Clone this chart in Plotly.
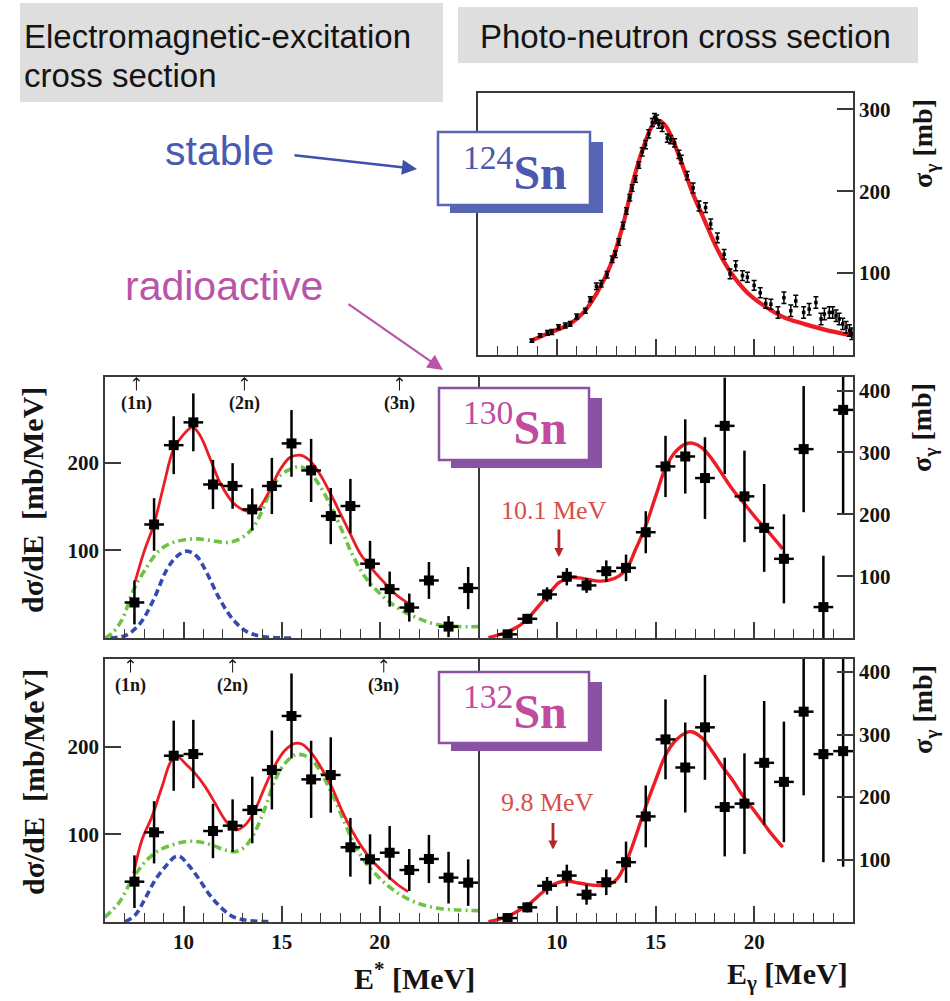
import plotly.graph_objects as go

# ---------------- data ----------------
# 124Sn photo-neutron cross section (E in MeV, sigma in mb)
e124 = [8.73, 9.15, 9.52, 9.74, 10.08, 10.42, 10.67, 11.0, 11.44, 11.69, 12.0, 12.24, 12.54, 12.8,
        12.96, 13.13, 13.35, 13.52, 13.69, 13.81, 13.98, 14.15, 14.32, 14.49, 14.65, 14.83, 14.94,
        15.05, 15.16, 15.33, 15.59, 15.76, 15.96, 16.18, 16.3, 16.6, 16.9, 17.2, 17.53, 17.79, 18.13,
        18.47, 18.77, 19.06, 19.4, 19.65, 19.99, 20.3, 20.58, 20.84, 21.2, 21.5, 21.85, 22.1, 22.5,
        22.78, 23.12, 23.38, 23.55, 23.8, 23.97, 24.14, 24.3, 24.48, 24.65, 24.82, 24.94]
s124 = [17.5, 24, 27, 28, 34, 36, 38, 47, 54, 68, 84, 87, 98, 117, 123, 138, 158, 176, 192, 204,
        215, 232, 248, 257, 270, 284, 290, 288, 282, 278, 265, 263, 259, 245, 239, 219, 204, 182,
        180, 160, 143, 123, 99, 109, 97, 95, 85, 76, 63, 62, 52, 70, 54, 66, 52, 56, 64, 44, 50, 52,
        52, 48, 44, 38, 34, 30, 26]
ds124 = [2, 2, 3, 3, 3, 3, 3, 3, 3, 3, 4, 4, 4, 4, 4, 4, 4, 4, 4, 4, 4, 4, 5, 5, 5, 5, 5, 5, 5, 5,
         5, 5, 5, 5, 5, 5, 6, 6, 6, 6, 6, 6, 6, 6, 6, 6, 6, 6, 6, 6, 7, 7, 7, 7, 7, 7, 7, 7, 7, 7,
         7, 7, 7, 7, 7, 7, 7]
fit124_e = [8.64, 9.66, 10.67, 11.35, 12.03, 12.7, 13.38, 13.89, 14.4, 14.83, 15.16, 15.5, 15.93,
            16.43, 16.94, 17.45, 18.13, 18.8, 19.65, 20.5, 21.5, 22.53, 23.55, 25.0]
fit124_s = [17, 27.6, 38, 52, 76, 109, 162, 215, 255, 280, 286, 280, 259, 227, 194, 166, 129, 101,
            76, 60, 46, 38, 31, 23.6]

# 1-MeV energy bins for the radioactive isotopes
e_bins = [7.5, 8.5, 9.5, 10.5, 11.5, 12.5, 13.5, 14.5, 15.5, 16.5, 17.5, 18.5, 19.5, 20.5, 21.5,
          22.5, 23.5, 24.5]

# 130Sn: electromagnetic excitation dσ/dE (mb/MeV) and photo-neutron σγ (mb)
em130 = [40.5, 129.4, 219.8, 245.8, 175.0, 173.3, 146.6, 173.3, 221.8, 191.0, 139.0, 150.4, 84.7,
         55.7, 34.7, 65.6, 13.0, 56.9]
em130_err = [25, 30, 33, 33, 28, 26, 24, 32, 38, 36, 32, 31, 26, 20, 16, 21, 12, 24]
pn130 = [5.9, 31, 70.4, 99, 85, 108, 113.4, 171, 277.4, 293.5, 258.6, 343, 229, 178, 128, 305.4,
         50, 368.8]
pn130_err = [3, 8, 11.5, 14, 12, 17.5, 21.5, 34, 49.5, 60, 66, 78, 74, 71, 72, 102, 83, 169]

# 132Sn
em132 = [46, 102.3, 189.7, 191.6, 103.8, 109.9, 127.8, 173.4, 235, 162.7, 167.7, 85.2, 71.5, 79,
         59.3, 71.9, 50.6, 44.9]
em132_err = [30, 35.5, 40, 39, 31, 30, 38, 45, 48.5, 44, 43, 33.5, 28.5, 30.5, 24, 27.5, 29.5, 26.5]
pn132 = [6.3, 23.4, 58, 74.3, 43.8, 63.6, 95.7, 169, 292.3, 247.3, 311.6, 184, 189.5, 254.8, 224.3,
         336.7, 268.7, 273.5]
pn132_err = [3, 8, 14, 17.5, 16, 20.5, 33, 49.5, 64, 72, 84, 79, 80.5, 99, 96.5, 134, 173, 185]

# fitted curves: total (red), pygmy component (blue), giant resonance component (green)
fit_em130_e = [7.54, 7.97, 8.51, 8.98, 9.49, 10.0, 10.47, 10.85, 11.36, 11.86, 12.54, 13.22, 13.73,
               14.24, 14.92, 15.42, 15.93, 16.44, 16.95, 17.46, 17.97, 18.47, 18.98, 19.49, 20.17,
               20.85, 21.44]
fit_em130 = [64.5, 97, 131, 173, 215, 232, 240, 230.5, 204, 177, 154, 144.6, 145.8, 161.8, 192,
             205.7, 208.4, 202, 186.6, 165.6, 142.7, 119.8, 97, 81.7, 64.5, 49, 39.7]
gdr_em130_e = [6.0, 6.36, 6.86, 7.46, 8.05, 8.73, 9.4, 10.07, 10.75, 11.44, 12.27, 12.95, 13.46,
               13.96, 14.47, 15.0, 15.5, 15.93, 16.44, 16.95, 17.46, 18.05, 18.56, 19.24, 20.08,
               20.93, 21.95, 22.97, 24.0, 25.0]
gdr_em130 = [0, 5.3, 20.6, 55, 78, 99, 108.4, 112, 113, 111, 109, 114, 123.7, 142.7, 169.5, 186.6,
             193, 195.4, 188.5, 173.3, 152.3, 123.7, 97, 70, 49, 34, 22.5, 15, 13, 13]
pdr_em130_e = [6.27, 7.1, 7.8, 8.47, 9.15, 9.66, 10.17, 10.68, 11.19, 11.86, 12.54, 13.22, 14.07, 15.5]
pdr_em130 = [0, 3.4, 17, 43.5, 78, 93, 99, 93, 74, 43.5, 20.6, 7.3, 1.5, 0]
fit_pn130_e = [6.53, 7.46, 8.05, 8.56, 9.07, 9.58, 10.08, 10.6, 11.1, 11.6, 12.12, 12.63, 13.14,
               13.56, 13.98, 14.49, 15.0, 15.5, 16.02, 16.53, 16.86, 17.37, 17.88, 18.39, 18.9,
               19.4, 20.08, 20.76, 21.44]
fit_pn130 = [0.5, 9.7, 19, 33, 51.6, 70.4, 89, 97.3, 97.3, 94.6, 92, 93.5, 100, 113.4, 143, 180.6,
             229, 274.7, 301.6, 314, 315, 307, 288, 264, 240, 221, 194, 170, 144]

fit_em132_e = [7.46, 7.88, 8.39, 8.9, 9.41, 9.75, 10.08, 10.59, 11.1, 11.61, 12.12, 12.63, 13.14,
               13.64, 14.15, 14.66, 15.17, 15.68, 16.02, 16.53, 17.03, 17.54, 18.05, 18.56, 19.07,
               19.58, 20.25, 20.93, 21.44]
fit_em132 = [55.5, 93.5, 120, 154, 184.8, 187.8, 181, 169.6, 154.4, 135.4, 116.3, 105, 110.6, 127.8,
             154.4, 179, 196, 203.8, 203, 192.4, 175.3, 154.4, 127.8, 105, 86, 70.7, 55.5, 42.2, 34.6]
gdr_em132_e = [5.98, 6.69, 7.37, 8.05, 8.73, 9.41, 10.08, 10.76, 11.44, 12.12, 12.63, 13.14, 13.64,
               14.15, 14.66, 15.17, 15.68, 16.1, 16.61, 17.12, 17.63, 18.22, 18.73, 19.24, 20.08,
               20.93, 21.95, 22.97, 23.98, 25.0]
gdr_em132 = [5.3, 21.3, 48, 68.8, 81.4, 87.8, 91.6, 91.6, 87.8, 82, 80.2, 86, 103, 129.7, 162, 181,
             190.5, 190.5, 183, 165.8, 143, 112.5, 87.8, 68.8, 48, 32.7, 21.3, 15.6, 13.7, 13]
pdr_em132_e = [7.03, 7.54, 8.05, 8.56, 9.07, 9.58, 9.83, 10.25, 10.76, 11.27, 11.78, 12.46, 13.14, 14.32]
pdr_em132 = [0.4, 8, 27, 48, 63, 74.5, 74.5, 65, 50, 32.7, 19.4, 6.8, 2.3, 0.4]
fit_pn132_e = [6.53, 7.46, 8.05, 8.56, 9.07, 9.58, 10.08, 10.6, 11.1, 11.6, 12.12, 12.63, 13.05,
               13.47, 13.98, 14.49, 15.0, 15.5, 16.02, 16.53, 16.83, 17.37, 17.88, 18.39, 18.9,
               19.4, 19.92, 20.42, 20.93, 21.44]
fit_pn132 = [0.4, 8.4, 18, 27.7, 42, 55.5, 63.6, 65.2, 62.5, 59.8, 58.2, 59.8, 69, 93, 136, 184, 227,
             267, 291, 303, 304.6, 294, 272.5, 248.4, 227, 202.8, 181.4, 160, 138.6, 119.8]

# neutron separation thresholds and pygmy centroids (MeV)
threshold_labels = ['(1n)', '(2n)', '(3n)']
thresholds130 = [7.6, 13.1, 21.0]
thresholds132 = [7.3, 12.5, 20.2]
pdr_peak130 = 10.1
pdr_peak132 = 9.8
x_ticks = [10, 15, 20]

# ---------------- styling / geometry ----------------
W, H = 950, 1001
FRAME = '#3a3a3a'
INK = '#141414'
SERIF = 'Liberation Serif, Times New Roman, DejaVu Serif, serif'
SANS = 'Liberation Sans, Arial, Helvetica, sans-serif'
RED = '#ec1c24'
GREEN = '#6dc443'
BLUE = '#3549b2'
SN_BLUE = '#5766b4'
SN_PURPLE = '#8a52a3'


def fx(p):
    return p / W


def fy(p):
    return 1 - p / H


# panel frames in pixels: left, right, top, bottom
frames = {1: (478, 853, 93, 355), 2: (105, 478, 377, 638), 3: (478, 853, 377, 638),
          4: (105, 478, 659, 922), 5: (478, 853, 659, 922)}
yranges = {1: [0, 320], 2: [0, 297.5], 3: [0, 422], 4: [0, 300], 5: [0, 421]}
yticks = {1: [100, 200, 300], 2: [100, 200], 3: [100, 200, 300, 400], 4: [100, 200],
          5: [100, 200, 300, 400]}


def sfx(i):
    return '' if i == 1 else str(i)


fig = go.Figure()

tick_font = dict(family=SERIF, size=21, color=INK, weight='bold')
axes = {}
for i, (l, r, t, b) in frames.items():
    axes['xaxis' + sfx(i)] = dict(
        domain=[fx(l), fx(r)], anchor='y' + sfx(i), range=[6, 25],
        showgrid=False, zeroline=False, showline=True, mirror=True,
        linecolor=FRAME, linewidth=1.5,
        ticks='inside', ticklen=16, tickwidth=1.5, tickcolor=FRAME,
        tickmode='array', tickvals=x_ticks, showticklabels=i in (4, 5),
        tickfont=tick_font, ticklabelstandoff=0,
        minor=dict(tickmode='linear', tick0=0, dtick=1, ticks='inside', ticklen=9,
                   tickwidth=1.3, tickcolor=FRAME),
    )
    axes['yaxis' + sfx(i)] = dict(
        domain=[fy(b), fy(t)], anchor='x' + sfx(i), range=yranges[i],
        side='right' if i in (1, 3, 5) else 'left',
        showgrid=False, zeroline=False, showline=True,
        # the lower right panels share their left edge with the left panels' frame
        mirror=i not in (3, 5),
        linecolor=FRAME, linewidth=1.5,
        ticks='inside', ticklen=16, tickwidth=1.5, tickcolor=FRAME,
        tickmode='array', tickvals=yticks[i], tickfont=tick_font,
    )
fig.update_layout(**axes)


def add_line(i, x, y, color, width, dash='solid'):
    fig.add_trace(go.Scatter(
        x=x, y=y, xaxis='x' + sfx(i), yaxis='y' + sfx(i), mode='lines',
        line=dict(color=color, width=width, dash=dash, shape='spline', smoothing=1.0),
        hoverinfo='skip', showlegend=False))


def add_points(i, y, err):
    fig.add_trace(go.Scatter(
        x=e_bins, y=y, xaxis='x' + sfx(i), yaxis='y' + sfx(i), mode='markers',
        marker=dict(symbol='square', size=10, color='black'),
        error_y=dict(type='data', array=err, color='black', thickness=2.5, width=0),
        error_x=dict(type='constant', value=0.5, color='black', thickness=2.5, width=0),
        showlegend=False))


GREEN_DASH = '8px,4px,2px,4px'
BLUE_DASH = '7px,4px'

# 124Sn
add_line(1, fit124_e, fit124_s, RED, 4.2)
fig.add_trace(go.Scatter(
    x=e124, y=s124, xaxis='x', yaxis='y', mode='markers',
    marker=dict(symbol='square', size=3.5, color='black'),
    error_y=dict(type='data', array=ds124, color='black', thickness=1.5, width=2.5),
    showlegend=False))

# 130Sn
add_line(2, pdr_em130_e, pdr_em130, BLUE, 3.6, BLUE_DASH)
add_line(2, gdr_em130_e, gdr_em130, GREEN, 3.6, GREEN_DASH)
add_line(2, fit_em130_e, fit_em130, RED, 2.8)
add_points(2, em130, em130_err)
add_line(3, fit_pn130_e, fit_pn130, RED, 3.4)
add_points(3, pn130, pn130_err)

# 132Sn
add_line(4, pdr_em132_e, pdr_em132, BLUE, 3.6, BLUE_DASH)
add_line(4, gdr_em132_e, gdr_em132, GREEN, 3.6, GREEN_DASH)
add_line(4, fit_em132_e, fit_em132, RED, 2.8)
add_points(4, em132, em132_err)
add_line(5, fit_pn132_e, fit_pn132, RED, 3.4)
add_points(5, pn132, pn132_err)

shapes = []
annotations = []


def rect(x0, y0, x1, y1, fill, line_color=None, line_width=0, layer='above'):
    shapes.append(dict(type='rect', xref='paper', yref='paper', layer=layer,
                       x0=fx(x0), x1=fx(x1), y0=fy(y1), y1=fy(y0), fillcolor=fill,
                       line=dict(color=line_color or fill, width=line_width)))


def text(x, y, s, size, color=INK, family=SERIF, xanchor='center', angle=0, xref='paper',
         yref='paper'):
    annotations.append(dict(x=x, y=y, xref=xref, yref=yref, text=s, showarrow=False,
                            xanchor=xanchor, yanchor='middle', textangle=angle,
                            font=dict(family=family, size=size, color=color)))


def arrow(hx, hy, ax, ay, color, width, head, size, xref='paper', yref='paper'):
    annotations.append(dict(x=hx, y=hy, xref=xref, yref=yref, text='', showarrow=True,
                            ax=ax, ay=ay, arrowcolor=color, arrowwidth=width,
                            arrowhead=head, arrowsize=size, standoff=0, startstandoff=0))


# headers
rect(20, 3, 443, 102, '#dedede', layer='below')
rect(458, 7, 918, 63, '#dedede', layer='below')
text(fx(22), fy(36), 'Electromagnetic-excitation', 33, family=SANS, xanchor='left')
text(fx(22), fy(76), 'cross section', 33, family=SANS, xanchor='left')
text(fx(478), fy(36), 'Photo-neutron cross section', 33, family=SANS, xanchor='left')

# stable / radioactive pointers
text(fx(163), fy(151), 'stable', 41, color='#4a5ab2', family=SANS, xanchor='left')
arrow(fx(417), fy(169), -124, -14, '#3f50aa', 2.5, 2, 1.2)
text(fx(123), fy(286), 'radioactive', 41, color='#b955a9', family=SANS, xanchor='left')
arrow(fx(443), fy(370), -96, -67, '#b955a9', 2.2, 2, 1.4)

# isotope tags
for label, color, textcolor, (bx0, by0, bx1, by1) in [
        ('124', SN_BLUE, '#4a58ad', (438, 132, 590, 205)),
        ('130', SN_PURPLE, '#c04b9f', (439, 388, 589, 460)),
        ('132', SN_PURPLE, '#c04b9f', (439, 672, 589, 743))]:
    rect(bx0 + 12, by0 + 10, bx1 + 13, by1 + 8, color)
    rect(bx0, by0, bx1, by1, 'white', color, 2.5)
    text(fx((bx0 + bx1) / 2 + 1), fy((by0 + by1) / 2), '<sup>%s</sup><b>Sn</b>' % label, 48,
         color=textcolor)

# neutron thresholds
for i, thr, top in [(2, thresholds130, 377), (4, thresholds132, 659)]:
    for lab, e in zip(threshold_labels, thr):
        arrow(e, fy(top), 0, 15, INK, 1, 4, 1.2, xref='x' + sfx(i))
        text(e, fy(top + 26), '<b>%s</b>' % lab, 18, xref='x' + sfx(i))

# pygmy centroids
text(9.86, 206, '%.1f MeV' % pdr_peak130, 26, color='#d4504c', xref='x3', yref='y3')
arrow(pdr_peak130, 131, 0, -29, '#b3262c', 2.8, 2, 0.65, xref='x3', yref='y3')
text(9.53, 191, '%.1f MeV' % pdr_peak132, 26, color='#d4504c', xref='x5', yref='y5')
arrow(pdr_peak132, 116, 0, -28, '#b3262c', 2.8, 2, 0.65, xref='x5', yref='y5')

# axis titles
for yc in (500, 782):
    text(fx(33), fy(yc), '<b>dσ/dE \u00a0[mb/MeV]</b>', 30, angle=-90)
for yc in (144, 428, 710):
    text(fx(924), fy(yc), '<b>σ<sub>γ</sub> [mb]</b>', 28, angle=-90)
text(fx(477), fy(976), '<b>E<sup>*</sup> [MeV]</b>', 30, xanchor='right')
text(fx(850), fy(976), '<b>E<sub>γ</sub> [MeV]</b>', 30, xanchor='right')

fig.update_layout(
    width=W, height=H, margin=dict(l=0, r=0, t=0, b=0),
    paper_bgcolor='white', plot_bgcolor='white', showlegend=False,
    shapes=shapes, annotations=annotations,
)

fig.write_html('out.html')
